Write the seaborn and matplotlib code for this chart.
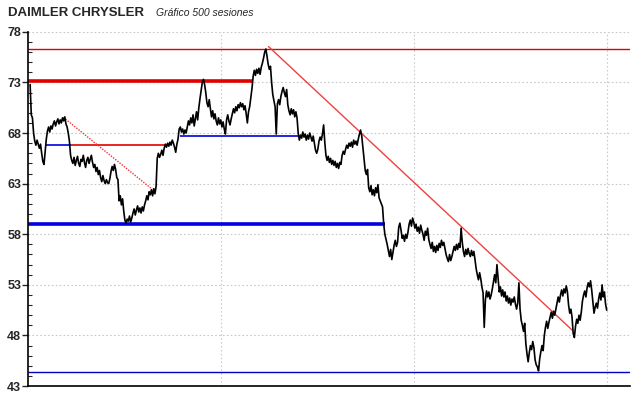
import numpy as np
import pandas as pd
import seaborn as sns
import matplotlib.pyplot as plt
from matplotlib.ticker import MultipleLocator, FixedLocator

# closing price per session (500 sessions)
closes = [
    72.8, 69.8, 69.5, 68.0, 67.2, 66.8, 67.3, 66.9, 66.5, 66.9,
    66.0, 65.2, 64.9, 66.2, 67.4, 68.2, 68.6, 68.1, 68.7, 68.4,
    68.9, 69.2, 68.7, 69.1, 69.4, 68.9, 69.3, 69.0, 69.5, 69.2,
    69.6, 68.9, 68.6, 68.0, 67.2, 65.8, 65.3, 65.0, 65.6, 64.8,
    65.3, 65.7, 65.0, 64.7, 65.4, 65.2, 65.8, 65.1, 64.6, 65.3,
    65.6, 65.0, 65.4, 65.8, 65.1, 64.6, 64.9, 64.2, 64.6, 63.9,
    64.3, 63.6, 63.2, 63.8, 63.3, 63.0, 63.4, 63.1, 63.0, 63.5,
    64.2, 64.7, 64.3, 64.9, 64.4, 63.6, 63.4, 61.3, 61.8, 60.9,
    61.5, 60.3, 59.4, 59.1, 59.5, 59.3, 59.8, 59.2, 59.6, 60.1,
    60.5, 59.9, 60.4, 60.8, 60.2, 60.6, 60.1, 60.7, 60.3, 60.9,
    61.3, 61.8, 61.4, 62.2, 61.9, 62.4, 61.8, 62.5, 62.0, 62.7,
    65.5, 66.0, 65.6, 65.9, 66.3, 65.8, 66.5, 66.9, 66.6, 67.0,
    66.7, 67.1, 66.8, 67.3, 67.0, 66.6, 66.1, 66.9, 67.4, 68.4,
    68.6, 68.1, 68.4, 67.9, 68.3, 68.0, 68.6, 69.2, 68.8, 69.5,
    69.0, 69.8, 68.7, 69.4, 70.1, 69.3, 70.5, 71.4, 72.2, 73.0,
    73.3, 72.8, 72.0, 71.0, 70.6, 71.3, 70.4, 69.6, 70.2, 69.4,
    69.9, 69.2, 68.8, 69.5, 68.9, 69.3, 68.6, 69.1, 68.4, 67.9,
    69.3, 69.8, 69.2, 68.8, 69.4, 69.9, 70.4, 70.0, 70.6, 70.2,
    70.8, 70.5, 71.0, 70.6, 70.9, 70.3, 70.7, 69.9, 69.0, 70.1,
    70.6, 71.5, 72.4, 73.6, 74.2, 73.7, 74.3, 73.9, 74.4, 73.8,
    74.5, 74.9, 75.4, 76.0, 76.3, 75.6, 74.8, 74.3, 74.6, 73.0,
    71.8, 71.2, 70.6, 67.9, 70.9, 71.3, 70.8, 71.6, 72.1, 72.5,
    72.0, 71.6, 72.3, 70.8, 70.2, 69.8, 70.4, 69.9, 70.3, 69.6,
    70.1, 69.5, 68.0, 67.3, 67.8, 67.5, 68.1, 67.6, 67.9, 67.3,
    67.8, 67.4, 68.0, 67.6, 67.2, 67.7, 67.0, 66.3, 66.0, 66.4,
    67.2, 67.6, 67.3, 67.9, 68.8, 67.1, 65.8, 65.3, 65.7, 65.1,
    65.5, 64.9, 65.3, 64.8, 65.2, 64.6, 65.0, 64.5, 65.1, 64.9,
    65.8, 66.2, 65.9, 66.4, 66.8, 66.5, 67.0, 66.7, 67.1, 66.6,
    67.3, 66.9, 67.2, 66.8, 67.4, 67.9, 68.3, 67.7, 66.6, 65.5,
    64.3, 63.9, 64.4, 62.6, 62.2, 62.8, 61.9, 62.4, 61.8, 62.6,
    62.1, 62.9, 61.6, 61.3, 61.0, 60.7, 59.0, 58.0, 57.5, 57.0,
    56.4, 55.8, 56.5, 55.5, 56.2, 56.9, 57.4, 56.8, 57.2, 58.7,
    59.1, 58.4, 57.6, 57.9, 57.3, 58.0, 57.6, 58.2, 59.0, 59.4,
    58.8, 59.6, 59.2, 58.6, 59.0, 58.3, 58.7, 58.1, 58.9, 58.4,
    58.0, 57.4, 58.3, 57.9, 58.6, 57.5, 57.0, 56.6, 57.2, 56.3,
    56.8, 56.2, 56.9, 56.4, 57.1, 56.7, 57.4, 56.9, 57.2, 56.6,
    56.0, 55.6, 55.3, 56.0, 55.4, 55.8, 56.3, 56.8, 56.4, 57.0,
    56.5, 57.1, 56.7, 58.6, 57.2, 56.3, 55.8, 56.5, 56.0, 56.6,
    56.1, 55.8, 56.4, 55.9, 56.3, 55.5, 54.6, 54.0, 53.5, 54.2,
    53.6, 52.8, 52.2, 48.8, 51.5, 52.4, 51.8, 52.3, 51.6, 52.0,
    52.6, 53.3, 54.0, 53.2, 55.0, 53.6, 52.3, 52.8, 51.9, 52.5,
    51.8, 52.3, 51.4, 51.9, 51.2, 51.7, 51.0, 51.6, 51.3, 51.8,
    51.1, 50.6, 51.2, 53.2, 50.6, 49.5, 49.0, 48.4, 49.2, 47.2,
    46.2, 45.4, 46.3, 47.0, 46.6, 47.4, 46.8, 45.6, 45.1, 44.9,
    44.5, 45.7, 46.4, 47.0, 46.5, 48.0, 48.8, 49.4, 48.7, 49.3,
    49.8, 50.3, 49.7, 50.4, 50.0, 50.6, 51.2, 51.8, 51.3, 52.0,
    52.5, 51.9, 52.6, 52.2, 52.9, 52.3, 51.0, 50.2, 50.6, 49.8,
    48.2, 47.8, 48.9, 49.6, 49.2, 50.0, 49.5, 50.3, 51.4, 52.0,
    52.4, 51.8, 52.7, 53.2, 52.8, 53.4, 52.5, 51.3, 50.2, 50.8,
    51.2, 50.7, 51.6, 52.2, 51.5, 53.0, 51.8, 52.3, 51.1, 50.5,
]

# support / resistance levels: (value, start session, end session, colour, width)
levels = [
    (76.3, None, None, "#e00000", 1.0),
    (73.1, None, 192, "#e00000", 2.6),
    (66.8, 14, 35, "#0000e0", 1.2),
    (66.8, 35, 120, "#e00000", 1.2),
    (67.75, 130, 232, "#0000e0", 1.2),
    (59.0, None, 307, "#0000e0", 2.6),
    (44.4, None, None, "#0000c8", 1.0),
]

# trend lines: ((session, value), (session, value))
trend_dotted = [(28.8, 69.55), (105.6, 62.45)]
trend_solid = [(206.3, 76.55), (469.0, 48.54)]

y_ticks = [43, 48, 53, 58, 63, 68, 73, 78]
x_grid = [165, 332, 499]

sns.set_theme(style="white")
plt.rcParams["font.family"] = ["Liberation Sans", "DejaVu Sans"]

df = pd.DataFrame({"session": np.arange(len(closes)), "close": closes})

fig = plt.figure(figsize=(6.4, 3.98), dpi=100)
ax = fig.add_axes([0.044, 0.030, 0.941, 0.890])

ax.set_xlim(-1.7, 519.5)
ax.set_ylim(43, 78)

# dotted grid
for y in y_ticks[1:]:
    ax.axhline(y, color="#c8c8c8", lw=0.8, ls=(0, (1.5, 2)), zorder=0)
for x in x_grid:
    ax.axvline(x, color="#d0c8d0", lw=0.8, ls=(0, (1.5, 2)), zorder=0)

xmin, xmax = ax.get_xlim()
for val, s0, s1, col, lw in levels:
    s0 = xmin if s0 is None else s0
    s1 = xmax if s1 is None else s1
    ax.plot([s0, s1], [val, val], color=col, lw=lw, solid_capstyle="butt", zorder=2)

ax.plot([p[0] for p in trend_dotted], [p[1] for p in trend_dotted],
        color="#f03030", lw=1.0, ls=(0, (1, 1)), zorder=2)
ax.plot([p[0] for p in trend_solid], [p[1] for p in trend_solid],
        color="#f04040", lw=1.0, zorder=2)

sns.lineplot(data=df, x="session", y="close", color="black", lw=1.2, ax=ax, zorder=3)

ax.set_xlabel("")
ax.set_ylabel("")
ax.set_xticks([])
ax.yaxis.set_major_locator(FixedLocator(y_ticks))
ax.yaxis.set_minor_locator(MultipleLocator(1))
ax.tick_params(axis="y", which="major", direction="out", length=4, width=1,
               labelsize=9, pad=1, left=True)
ax.tick_params(axis="y", which="minor", direction="in", length=3, width=0.8, left=True)
for lab in ax.get_yticklabels():
    lab.set_fontweight("bold")

for side in ["top", "right"]:
    ax.spines[side].set_visible(False)
for side in ["left", "bottom"]:
    ax.spines[side].set_color("black")
    ax.spines[side].set_linewidth(1.2)

fig.text(0.012, 0.968, "DAIMLER CHRYSLER", fontsize=9.5, fontweight="bold", va="center")
fig.text(0.243, 0.968, "Gráfico 500 sesiones", fontsize=7.5, style="italic", va="center")

fig.savefig("out.png", dpi=100)
